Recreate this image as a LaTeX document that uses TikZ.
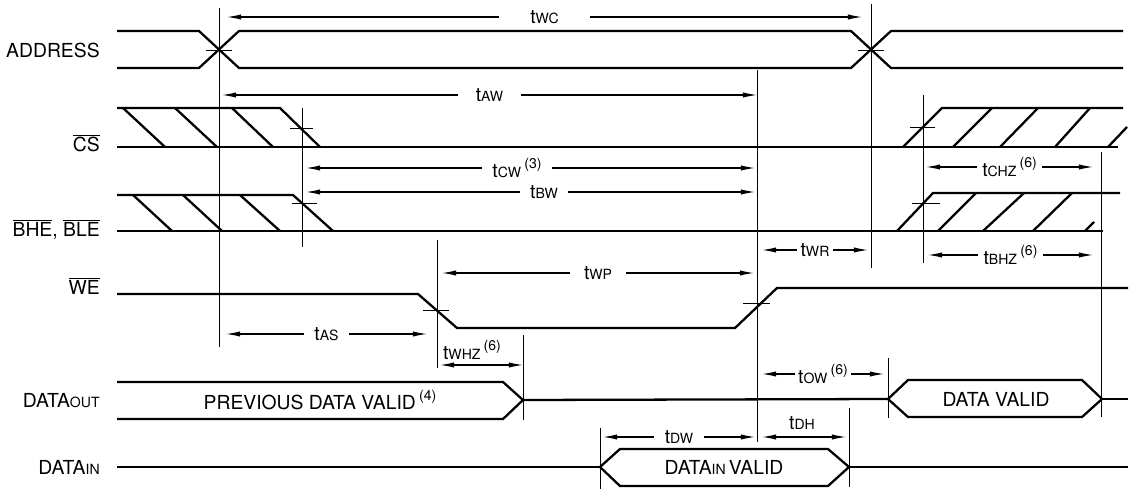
\documentclass[tikz,border=0pt]{standalone}
\usepackage{fontspec}
\setmainfont{TeX Gyre Heros}
\usetikzlibrary{arrows.meta}

\newcommand{\tsym}[1]{t{\fontsize{8}{9}\selectfont #1}}
\newcommand{\smc}[1]{{\fontsize{8}{9}\selectfont #1}}
\newcommand{\fnref}[1]{\,\raisebox{0.85ex}{\fontsize{8}{9}\selectfont (#1)}}
\newcommand{\ovl}[1]{$\overline{\mbox{#1}}$}

\begin{document}
\begin{tikzpicture}[x=0.02cm, y=-0.02cm,
    sig/.style={line width=1.3pt},
    tline/.style={line width=0.55pt},
    dim/.style={line width=0.65pt, {Latex[length=8pt,width=3pt]}-{Latex[length=8pt,width=3pt]}},
    lbl/.style={font=\fontsize{11}{13}\selectfont, inner sep=1pt},
    gaplbl/.style={lbl, fill=white, inner xsep=6pt},
    signame/.style={lbl, anchor=base east, inner sep=0pt}]
  \useasboundingbox (0,0) rectangle (1135,489);

  % signal names
  \node[signame] (naddr) at (100,58) {ADDRESS};
  \node[signame] (ncs) at (100,152) {\ovl{CS}};
  \node[signame] (nbhe) at (100,237) {\ovl{BHE}, \ovl{BLE}};
  \node[signame] (nwe) at (100,295) {\ovl{WE}};
  \node[signame] (ndout) at (100,407) {DATA\smc{OUT}};
  \node[signame] (ndin) at (100,474) {DATA\smc{IN}};

  % reference lines
  \draw[tline] (219,8) -- (219,347);
  \draw[tline] (871,4) -- (871,268);
  \draw[tline] (757,70) -- (757,442);
  \draw[tline] (302,108) -- (302,247);
  \draw[tline] (923,95) -- (923,263);
  \draw[tline] (1101,152) -- (1101,417);
  \draw[tline] (437,240) -- (437,368);
  \draw[tline] (523,335) -- (523,420);
  \draw[tline] (888,358) -- (888,418);
  \draw[tline] (600,428) -- (600,489);
  \draw[tline] (849,408) -- (849,487);

  % ADDRESS
  \draw[sig] (117,31) -- (199,31) -- (239,68) -- (851,68) -- (891,31) -- (1123,31);
  \draw[sig] (117,68) -- (199,68) -- (239,31) -- (851,31) -- (891,68) -- (1123,68);
  \draw[tline] (206,50) -- (232,50);
  \draw[tline] (858,50) -- (884,50);

  % CS
  \draw[sig] (117,108) -- (280,108) -- (320,147);
  \draw[sig] (117,147) -- (1118,147);
  \draw[sig] (123,108) -- (165,147);
  \draw[sig] (175,108) -- (217,147);
  \draw[sig] (232,108) -- (273,147);
  \draw[sig] (903,147) -- (942,108) -- (1123,108);
  \draw[sig] (953,147) -- (992,108);
  \draw[sig] (1000,147) -- (1038,108);
  \draw[sig] (1055,147) -- (1090,108);
  \draw[sig] (1108,147) -- (1127,127);
  \draw[tline] (290,128) -- (313,128);
  \draw[tline] (910,127) -- (935,127);

  % BHE, BLE
  \draw[sig] (117,195) -- (293,195) -- (333,231);
  \draw[sig] (117,231) -- (1103,231);
  \draw[sig] (133,195) -- (172,231);
  \draw[sig] (183,195) -- (222,231);
  \draw[sig] (240,195) -- (280,231);
  \draw[sig] (897,231) -- (933,193) -- (1120,193);
  \draw[sig] (938,231) -- (976,193);
  \draw[sig] (983,231) -- (1024,193);
  \draw[sig] (1033,231) -- (1072,193);
  \draw[sig] (1085,231) -- (1094,222);
  \draw[tline] (292,203) -- (317,203);
  \draw[tline] (912,203) -- (940,203);

  % WE
  \draw[sig] (117,294) -- (418,294) -- (457,328) -- (735,328) -- (777,288) -- (1128,288);
  \draw[tline] (423,310) -- (449,310);
  \draw[tline] (743,303) -- (770,303);

  % DATA OUT
  \draw[sig] (117,382) -- (503,382) -- (523,400) -- (503,419) -- (117,419);
  \draw[sig] (523,400) -- (888,399);
  \draw[sig] (888,399) -- (908,380) -- (1082,380) -- (1102,399) -- (1082,417) -- (908,417) -- cycle;
  \draw[sig] (1102,399) -- (1128,399);
  \node[lbl] (prev) at (320,400) {PREVIOUS DATA VALID\fnref{4}};
  \node[lbl] (dvalid) at (996,399) {DATA VALID};

  % DATA IN
  \draw[sig] (117,467) -- (600,467);
  \draw[sig] (600,467) -- (620,449) -- (828,449) -- (849,467) -- (828,486) -- (620,486) -- cycle;
  \draw[sig] (849,467) -- (1128,467);
  \node[lbl] (divalid) at (724,467) {DATA\smc{IN}\,VALID};

  % timing parameters
  \draw[dim] (227,17) -- node[gaplbl, inner xsep=18pt] (twc) {\tsym{WC}} (862,17);
  \draw[dim] (222,95) -- node[gaplbl, inner xsep=10pt] (taw) {\tsym{AW}} (757,95);
  \draw[dim] (306,168) -- node[gaplbl, pos=0.47] (tcw) {\tsym{CW}\fnref{3}} (755,168);
  \draw[dim] (306,192) -- node[gaplbl, pos=0.53] (tbw) {\tsym{BW}} (755,192);
  \draw[dim] (926,167) -- node[gaplbl, inner xsep=3pt] (tchz) {\tsym{CHZ}\fnref{6}} (1093,167);
  \draw[dim] (762,250) -- node[gaplbl, inner xsep=2pt] (twr) {\tsym{WR}} (868,250);
  \draw[dim] (928,255) -- node[gaplbl, inner xsep=3pt] (tbhz) {\tsym{BHZ}\fnref{6}} (1093,255);
  \draw[dim] (442,273) -- node[gaplbl, inner xsep=8pt] (twp) {\tsym{WP}} (754,273);
  \draw[dim] (226,334) -- node[gaplbl] (tas) {\tsym{AS}} (427,334);
  \draw[dim] (440,365) -- (523,365);
  \node[lbl] (twhz) at (472,350) {\tsym{WHZ}\fnref{6}};
  \draw[dim] (762,374) -- node[gaplbl, inner xsep=2pt] (tow) {\tsym{OW}\fnref{6}} (884,374);
  \draw[dim] (603,437) -- node[gaplbl] (tdw) {\tsym{DW}} (755,437);
  \draw[dim] (762,437) -- (846,437);
  \node[lbl] (tdh) at (802,423) {\tsym{DH}};
\end{tikzpicture}
\end{document}
